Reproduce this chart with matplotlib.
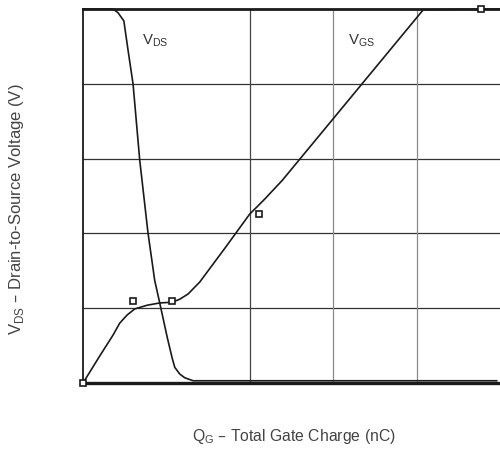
import matplotlib
matplotlib.use("Agg")
import matplotlib.pyplot as plt

plt.rcParams["font.family"] = ["Liberation Sans", "DejaVu Sans"]

# V_DS curve (data units: 5 x 5 grid)
vds_q = [0.0, 0.36, 0.42, 0.49, 0.54, 0.60, 0.68, 0.78, 0.86, 0.92, 1.01, 1.07, 1.10,
         1.16, 1.22, 1.32, 1.49, 4.96]
vds_v = [5.0, 5.0, 4.95, 4.84, 4.45, 4.0, 2.98, 2.0, 1.37, 1.07, 0.61, 0.33, 0.21,
         0.12, 0.07, 0.03, 0.03, 0.03]

# V_GS curve
vgs_q = [0.0, 0.20, 0.36, 0.44, 0.53, 0.62, 0.77, 0.92, 1.07, 1.16, 1.26, 1.40, 1.70,
         2.0, 2.10, 2.18, 2.39, 4.08, 5.0]
vgs_v = [0.0, 0.36, 0.64, 0.80, 0.91, 0.99, 1.04, 1.07, 1.08, 1.12, 1.19, 1.35, 1.80,
         2.26, 2.37, 2.46, 2.71, 4.99, 5.0]

# open square markers
mark_q = [0.0, 0.60, 1.07, 2.11, 4.77]
mark_v = [0.0, 1.10, 1.10, 2.26, 5.0]

fig = plt.figure(figsize=(5.0, 4.49), dpi=100)
ax = fig.add_axes([0.166, 0.147, 0.834, 0.833])
ax.set_xlim(0, 5)
ax.set_ylim(0, 5)

# grid
for y in [1, 2, 3, 4]:
    ax.axhline(y, color="#333333", lw=0.9, zorder=1)
for x, c in [(2, "#444444"), (3, "#8a8a8a"), (4, "#8a8a8a")]:
    ax.axvline(x, color=c, lw=0.9, zorder=1)

ax.plot(vds_q, vds_v, color="#1a1a1a", lw=1.2, zorder=3, clip_on=False)
ax.plot(vgs_q, vgs_v, color="#1a1a1a", lw=1.2, zorder=3, clip_on=False)
ax.plot(mark_q, mark_v, ls="none", marker="s", ms=5, mfc="white", mec="#1a1a1a",
        mew=1.2, zorder=4, clip_on=False)

ax.text(0.71, 4.53, r"V$_{\mathregular{DS}}$", fontsize=10.8, color="#333333")
ax.text(3.18, 4.53, r"V$_{\mathregular{GS}}$", fontsize=10.8, color="#333333")

ax.spines["right"].set_visible(False)
ax.spines["top"].set_linewidth(2.0)
ax.spines["bottom"].set_linewidth(2.4)
ax.spines["left"].set_linewidth(1.3)
for s in ["top", "bottom", "left"]:
    ax.spines[s].set_color("#1a1a1a")
ax.set_xticks([])
ax.set_yticks([])

fig.text(0.034, 0.535, r"V$_{\mathregular{DS}}$ – Drain-to-Source Voltage (V)", rotation=90,
         ha="center", va="center", fontsize=12, color="#444444")
fig.text(0.588, 0.028, r"Q$_{\mathregular{G}}$ – Total Gate Charge (nC)",
         ha="center", va="center", fontsize=11.3, color="#444444")

fig.savefig("out.png", dpi=100)
